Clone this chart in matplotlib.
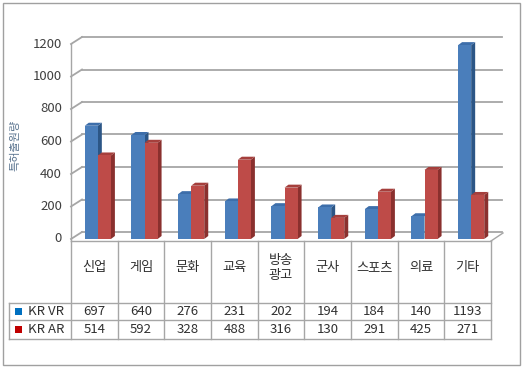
import matplotlib
matplotlib.use("Agg")
import matplotlib.pyplot as plt
from matplotlib.lines import Line2D
from matplotlib.patches import Polygon, Rectangle

plt.rcParams['font.family'] = ['Noto Sans CJK KR', 'DejaVu Sans']

# data
categories = ["신업", "게임", "문화", "교육", "방송\n광고", "군사", "스포츠", "의료", "기타"]
kr_vr = [697, 640, 276, 231, 202, 194, 184, 140, 1193]
kr_ar = [514, 592, 328, 488, 316, 130, 291, 425, 271]
series_names = ["KR VR", "KR AR"]
yticks = [0, 200, 400, 600, 800, 1000, 1200]

W, H = 523, 369
fig = plt.figure(figsize=(W / 100, H / 100), dpi=100)

def fx(x):
    return x / W

def fy(y):
    return 1 - y / H

# plot area: category 0..8 spans x 71..491 px, value 0 at y=239, 1200 at y=44
ax = fig.add_axes([fx(71), fy(239), (491 - 71) / W, (239 - 44) / H])
ax.set_xlim(-0.5, len(categories) - 0.5)
ax.set_ylim(0, 1200)
ax.axis("off")
fig.canvas.draw()

def to_px(x, y):
    dx, dy = ax.transData.transform((x, y))
    return dx, H - dy

grid_col = "#a6a6a6"
back_dx, back_dy = 11, -7   # wall depth in px
bar_dx, bar_dy = 4, -3      # bar depth in px

def fig_line(xs, ys, **kw):
    fig.add_artist(Line2D([fx(v) for v in xs], [fy(v) for v in ys],
                          transform=fig.transFigure, **kw))

def fig_poly(pts, **kw):
    fig.add_artist(Polygon([(fx(a), fy(b)) for a, b in pts], closed=True,
                           transform=fig.transFigure, **kw))

# back wall gridlines and left wall diagonals
x_left = -0.5
x_right = len(categories) - 0.5
for t in yticks:
    lx, ly = to_px(x_left, t)
    rx, ry = to_px(x_right, t)
    fig_line([lx, lx + back_dx], [ly, ly + back_dy], color=grid_col, lw=1.3, zorder=1)
    fig_line([lx + back_dx, rx + back_dx], [ly + back_dy, ry + back_dy],
             color=grid_col, lw=1.3, zorder=1)
    fig.text(fx(lx - 9), fy(ly), str(t), ha="right", va="center",
             fontsize=9.5, color="#404040")

# left vertical axis line
lx0, ly0 = to_px(x_left, 0)
lx1, ly1 = to_px(x_left, 1200)
fig_line([lx0, lx1], [ly0 + 2, ly1], color=grid_col, lw=1.0, zorder=1)

# floor front edge and right diagonal
rx0, ry0 = to_px(x_right, 0)
fig_line([lx0, rx0], [ly0 + 2, ry0 + 2], color=grid_col, lw=1.0, zorder=1)
fig_line([rx0, rx0 + back_dx + 1], [ry0 + 2, ry0 + back_dy + 1],
         color=grid_col, lw=1.0, zorder=1)

# 3d bars
bar_w = 0.28
styles = [
    (kr_vr, -0.065, "#4a7ebb", "#2c5686", "#3d6eaa"),
    (kr_ar, 0.215, "#be4b48", "#8a302e", "#a53f3c"),
]
for vals, off, front, side, top in styles:
    for i, v in enumerate(vals):
        x0, yb = to_px(i + off - bar_w / 2, 0)
        x1, yt = to_px(i + off + bar_w / 2, v)
        fig_poly([(x1, yb), (x1, yt), (x1 + bar_dx, yt + bar_dy), (x1 + bar_dx, yb + bar_dy)],
                 facecolor=side, edgecolor="none", zorder=3)
        fig_poly([(x0, yt), (x1, yt), (x1 + bar_dx, yt + bar_dy), (x0 + bar_dx, yt + bar_dy)],
                 facecolor=top, edgecolor="none", zorder=3)
        fig.add_artist(Rectangle((fx(x0), fy(yb)), fx(x1 - x0), (yb - yt) / H,
                                 facecolor=front, edgecolor="none",
                                 transform=fig.transFigure, zorder=3))

# y axis title
fig.text(fx(15), fy(145), "특허출원량", rotation=90, ha="center", va="center",
         fontsize=8, color="#5b7590")

# data table
tcol = "#a6a6a6"
row_top, row_sep1, row_sep2, row_bot = 241, 303, 320, 339
legend_left = 9
bounds = [to_px(i - 0.5, 0)[0] for i in range(len(categories) + 1)]
for i, b in enumerate(bounds):
    fig_line([b, b], [row_top, row_bot], color=tcol, lw=1.0)
fig_line([legend_left, legend_left], [row_sep1, row_bot], color=tcol, lw=1.0)
for yy in (row_sep1, row_sep2, row_bot):
    fig_line([legend_left, bounds[-1]], [yy, yy], color=tcol, lw=1.0)

for i, cat in enumerate(categories):
    cx = (bounds[i] + bounds[i + 1]) / 2
    fig.text(fx(cx), fy(268), cat, ha="center", va="center", fontsize=9.5,
             color="#303030", linespacing=1.2)
    fig.text(fx(cx), fy((row_sep1 + row_sep2) / 2), str(kr_vr[i]), ha="center",
             va="center", fontsize=9.5, color="#303030")
    fig.text(fx(cx), fy((row_sep2 + row_bot) / 2), str(kr_ar[i]), ha="center",
             va="center", fontsize=9.5, color="#303030")

legend_cols = ["#0070c0", "#c00000"]
for k, (name, col) in enumerate(zip(series_names, legend_cols)):
    yc = (row_sep1 + row_sep2) / 2 if k == 0 else (row_sep2 + row_bot) / 2
    fig.add_artist(Rectangle((fx(15), fy(yc + 3.5)), 7 / W, 7 / H, facecolor=col,
                             edgecolor="none", transform=fig.transFigure))
    fig.text(fx(28), fy(yc), name, ha="left", va="center", fontsize=9.5, color="#303030")

# outer border
fig.add_artist(Rectangle((fx(3), fy(365)), (520 - 3) / W, (365 - 3) / H, fill=False,
                         edgecolor="#a0a0a0", lw=1.0, transform=fig.transFigure))

fig.savefig("out.png", dpi=100)
